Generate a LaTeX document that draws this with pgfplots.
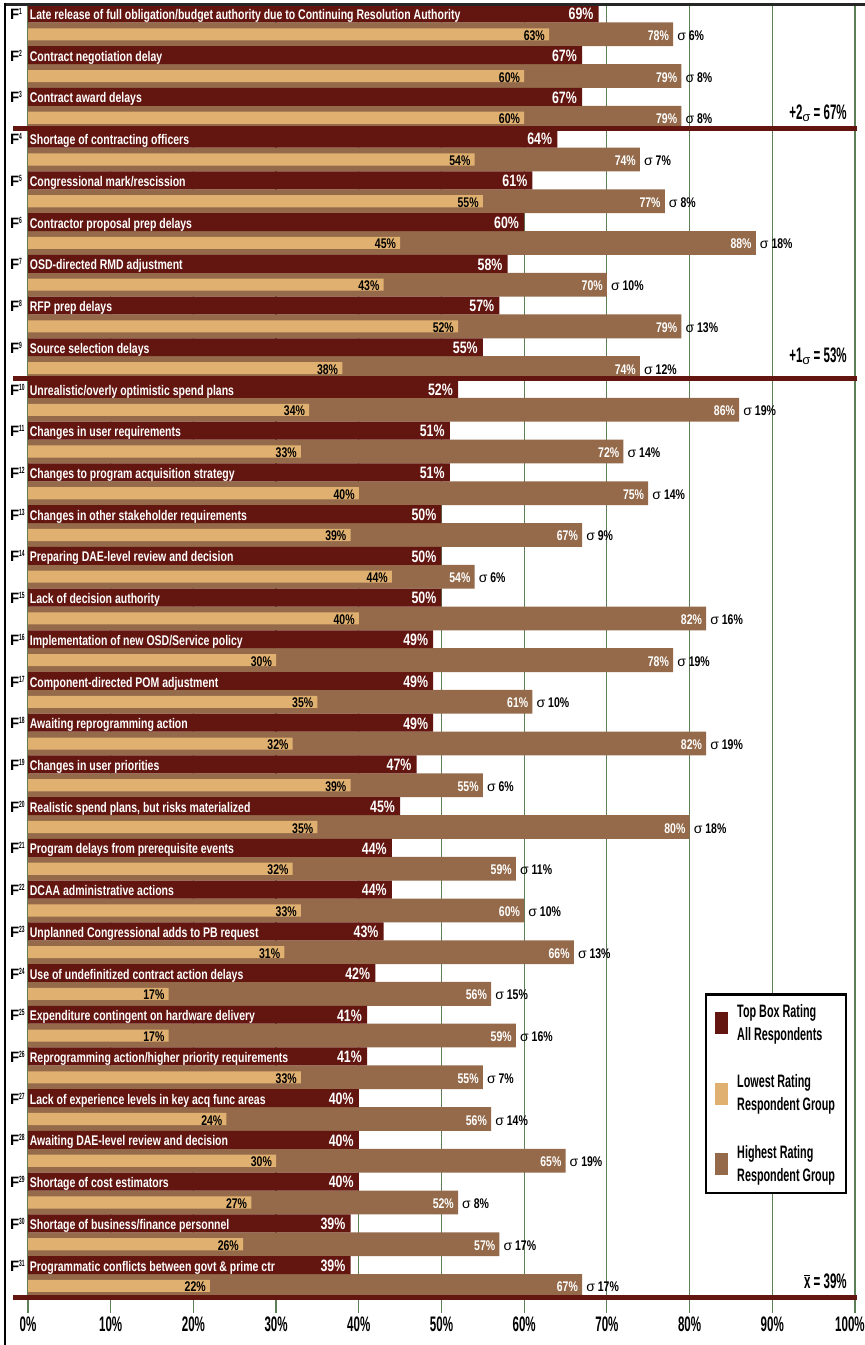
\documentclass[border=0pt]{standalone}
\usepackage{pgfplots}
\pgfplotsset{compat=1.18}
\usepackage{pgfplotstable}
\usepackage{fontspec}
\setmainfont{Liberation Sans}[FakeStretch=0.75]
\newfontfamily\ftick{Liberation Sans}[FakeStretch=0.55]
\newfontfamily\fleg{Liberation Sans}[FakeStretch=0.60]
\newfontfamily\fsig{Liberation Sans}

\definecolor{topred}{RGB}{99,21,16}
\definecolor{lowtan}{RGB}{224,176,112}
\definecolor{highbrown}{RGB}{148,106,74}
\definecolor{gridgreen}{RGB}{93,127,85}

\pgfplotsset{/pgf/number format/assume math mode=true}

\pgfplotstableread{
n top low high sig
1 69 63 78 6
2 67 60 79 8
3 67 60 79 8
4 64 54 74 7
5 61 55 77 8
6 60 45 88 18
7 58 43 70 10
8 57 52 79 13
9 55 38 74 12
10 52 34 86 19
11 51 33 72 14
12 51 40 75 14
13 50 39 67 9
14 50 44 54 6
15 50 40 82 16
16 49 30 78 19
17 49 35 61 10
18 49 32 82 19
19 47 39 55 6
20 45 35 80 18
21 44 32 59 11
22 44 33 60 10
23 43 31 66 13
24 42 17 56 15
25 41 17 59 16
26 41 33 55 7
27 40 24 56 14
28 40 30 65 19
29 40 27 52 8
30 39 26 57 17
31 39 22 67 17
}\data

\begin{document}
\begin{tikzpicture}
\begin{axis}[
  x=8.27pt, y=41.72pt,
  xmin=0, xmax=100, ymin=-31.15, ymax=0.18,
  axis line style={draw=none},
  major tick length=0pt,
  xtick={0,10,20,30,40,50,60,70,80,90,100},
  xticklabels={0\%,10\%,20\%,30\%,40\%,50\%,60\%,70\%,80\%,90\%,\kern-10pt100\%},
  ytick=\empty,
  xmajorgrids,
  grid style={gridgreen, line width=1.2pt},
  xticklabel style={font=\ftick\bfseries\fontsize{21}{21}\selectfont, text=black},
  clip=false,
  legend image code/.code={\fill[#1] (0pt,-11pt) rectangle (13pt,11pt);},
  legend cell align=left,
  legend style={at={(axis cs:81.86,-23.48)}, anchor=north west,
    draw=black, line width=2.5pt, inner xsep=9pt, inner ysep=8pt,
    row sep=29pt,
    font=\fleg\bfseries\fontsize{18}{23}\selectfont,
    nodes={inner sep=2pt, align=left},
    /tikz/every odd column/.append style={column sep=7pt}},
]
\coordinate (bbA) at (axis cs:-3.386,0.3236);
\coordinate (bbB) at (axis cs:101.21,-31.916);

% highest rating (brown)
\addplot[xbar, bar shift=0pt, bar width=0.57, fill=highbrown, draw=none, forget plot,
  point meta=x,
  nodes near coords={\pgfmathprintnumber{\pgfplotspointmeta}\%},
  nodes near coords align={anchor=base east},
  every node near coord/.append style={text=white, inner sep=0pt, xshift=-4pt, yshift=-6pt,
     font=\bfseries\fontsize{14}{14}\selectfont}]
  table[x=high, y expr={0.5-\thisrow{n}}]{\data};
% lowest rating (tan)
\addplot[xbar, bar shift=0pt, bar width=0.29, fill=lowtan, draw=none, forget plot,
  point meta=x,
  nodes near coords={\pgfmathprintnumber{\pgfplotspointmeta}\%},
  nodes near coords align={anchor=base east},
  every node near coord/.append style={text=black, inner sep=0pt, xshift=-4pt, yshift=-6pt,
     font=\bfseries\fontsize{14}{14}\selectfont}]
  table[x=low, y expr={0.5-\thisrow{n}}]{\data};
% sigma labels
\addplot[draw=none, mark=none, forget plot,
  point meta=explicit,
  nodes near coords={{\fsig\mdseries σ} \pgfmathprintnumber{\pgfplotspointmeta}\%},
  nodes near coords align={anchor=base west},
  every node near coord/.append style={text=black, inner sep=0pt, xshift=4pt, yshift=-6pt,
     font=\bfseries\fontsize{14}{14}\selectfont}]
  table[x=high, y expr={0.5-\thisrow{n}}, meta=sig]{\data};
% top box (dark red)
\addplot[xbar, bar shift=0pt, bar width=0.43, fill=topred, draw=none, forget plot,
  point meta=x,
  nodes near coords={\pgfmathprintnumber{\pgfplotspointmeta}\%},
  nodes near coords align={anchor=base east},
  every node near coord/.append style={text=white, inner sep=0pt, xshift=-5pt, yshift=-6.3pt,
     font=\bfseries\fontsize{16.5}{16.5}\selectfont}]
  table[x=top, y expr={1-\thisrow{n}}]{\data};

% reference lines
\addplot[topred, line width=5pt, forget plot] coordinates {(-1.8,-2.76) (100.2,-2.76)};
\addplot[topred, line width=5pt, forget plot] coordinates {(-1.8,-8.76) (100.2,-8.76)};
\addplot[topred, line width=5pt, forget plot] coordinates {(-1.8,-30.77) (100.2,-30.77)};

\addlegendimage{fill=topred, draw=none}
\addlegendentry{Top Box Rating\\All Respondents}
\addlegendimage{fill=lowtan, draw=none}
\addlegendentry{Lowest Rating\\Respondent Group}
\addlegendimage{fill=highbrown, draw=none}
\addlegendentry{Highest Rating\\Respondent Group}

% frame
\draw[line width=3pt, black!85] (axis cs:-2.9,0.216) -- (axis cs:101.3,0.216);
\draw[line width=2.3pt, black] (axis cs:-2.75,0.25) -- (axis cs:-2.75,-31.92);

% F labels
\pgfplotsinvokeforeach{1,...,31}{
  \node[anchor=base west, inner sep=0pt, font=\fsig\bfseries\fontsize{15}{15}\selectfont] at (axis cs:-2.2,{1-#1-0.145}) {F\raisebox{5pt}{\ftick\fontsize{9}{9}\selectfont #1}};
}

% titles
\tikzset{ttl/.style={anchor=base west, inner sep=0pt, text=white, font=\bfseries\fontsize{14}{14}\selectfont}}
\node[ttl] at (axis cs:0.2,-0.145) {Late release of full obligation/budget authority due to Continuing Resolution Authority};
\node[ttl] at (axis cs:0.2,-1.145) {Contract negotiation delay};
\node[ttl] at (axis cs:0.2,-2.145) {Contract award delays};
\node[ttl] at (axis cs:0.2,-3.145) {Shortage of contracting officers};
\node[ttl] at (axis cs:0.2,-4.145) {Congressional mark/rescission};
\node[ttl] at (axis cs:0.2,-5.145) {Contractor proposal prep delays};
\node[ttl] at (axis cs:0.2,-6.145) {OSD-directed RMD adjustment};
\node[ttl] at (axis cs:0.2,-7.145) {RFP prep delays};
\node[ttl] at (axis cs:0.2,-8.145) {Source selection delays};
\node[ttl] at (axis cs:0.2,-9.145) {Unrealistic/overly optimistic spend plans};
\node[ttl] at (axis cs:0.2,-10.145) {Changes in user requirements};
\node[ttl] at (axis cs:0.2,-11.145) {Changes to program acquisition strategy};
\node[ttl] at (axis cs:0.2,-12.145) {Changes in other stakeholder requirements};
\node[ttl] at (axis cs:0.2,-13.145) {Preparing DAE-level review and decision};
\node[ttl] at (axis cs:0.2,-14.145) {Lack of decision authority};
\node[ttl] at (axis cs:0.2,-15.145) {Implementation of new OSD/Service policy};
\node[ttl] at (axis cs:0.2,-16.145) {Component-directed POM adjustment};
\node[ttl] at (axis cs:0.2,-17.145) {Awaiting reprogramming action};
\node[ttl] at (axis cs:0.2,-18.145) {Changes in user priorities};
\node[ttl] at (axis cs:0.2,-19.145) {Realistic spend plans, but risks materialized};
\node[ttl] at (axis cs:0.2,-20.145) {Program delays from prerequisite events};
\node[ttl] at (axis cs:0.2,-21.145) {DCAA administrative actions};
\node[ttl] at (axis cs:0.2,-22.145) {Unplanned Congressional adds to PB request};
\node[ttl] at (axis cs:0.2,-23.145) {Use of undefinitized contract action delays};
\node[ttl] at (axis cs:0.2,-24.145) {Expenditure contingent on hardware delivery};
\node[ttl] at (axis cs:0.2,-25.145) {Reprogramming action/higher priority requirements};
\node[ttl] at (axis cs:0.2,-26.145) {Lack of experience levels in key acq func areas};
\node[ttl] at (axis cs:0.2,-27.145) {Awaiting DAE-level review and decision};
\node[ttl] at (axis cs:0.2,-28.145) {Shortage of cost estimators};
\node[ttl] at (axis cs:0.2,-29.145) {Shortage of business/finance personnel};
\node[ttl] at (axis cs:0.2,-30.145) {Programmatic conflicts between govt \& prime ctr};

% annotations
\tikzset{ann/.style={anchor=base east, inner sep=0pt, text=black, font=\ftick\bfseries\fontsize{21}{21}\selectfont}}
\node[ann] at (axis cs:99.03,-2.553) {+2\raisebox{-1.5pt}{\fsig\mdseries\fontsize{13}{13}\selectfont σ} = 67\%};
\node[ann] at (axis cs:99.03,-8.377) {+1\raisebox{-1.5pt}{\fsig\mdseries\fontsize{13}{13}\selectfont σ} = 53\%};
\node[ann] at (axis cs:99.03,-30.55) {$\overline{\mbox{x}}$ = 39\%};
\end{axis}
\pgfresetboundingbox
\path[use as bounding box] (bbA) rectangle (bbB);
\end{tikzpicture}
\end{document}
